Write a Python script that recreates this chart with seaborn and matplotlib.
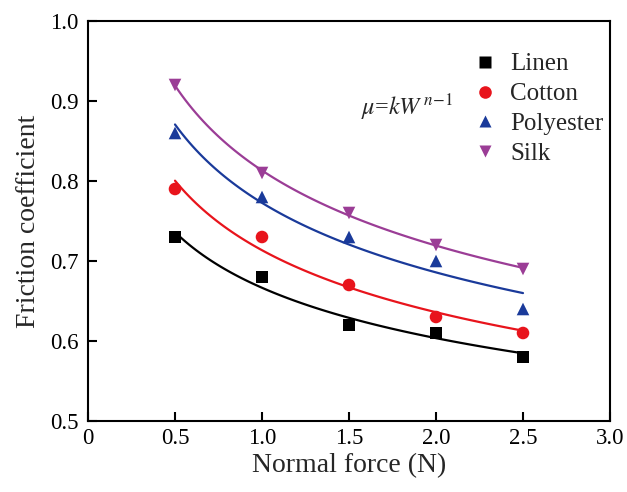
import numpy as np
import pandas as pd
import matplotlib
matplotlib.use("Agg")
import matplotlib.pyplot as plt
import seaborn as sns

force = [0.5, 1.0, 1.5, 2.0, 2.5]
linen = [0.73, 0.68, 0.62, 0.61, 0.58]
cotton = [0.79, 0.73, 0.67, 0.63, 0.61]
polyester = [0.86, 0.78, 0.73, 0.70, 0.64]
silk = [0.92, 0.81, 0.76, 0.72, 0.69]
fabrics = ["Linen", "Cotton", "Polyester", "Silk"]
x_ticks = [0, 0.5, 1.0, 1.5, 2.0, 2.5, 3.0]
x_labels = ["0", "0.5", "1.0", "1.5", "2.0", "2.5", "3.0"]
y_ticks = [0.5, 0.6, 0.7, 0.8, 0.9, 1.0]
y_labels = ["0.5", "0.6", "0.7", "0.8", "0.9", "1.0"]

sns.set_theme(style="ticks")
plt.rcParams["font.family"] = ["Liberation Serif", "DejaVu Serif"]
plt.rcParams["mathtext.fontset"] = "stix"

colors = {"Linen": "#000000", "Cotton": "#e8141c", "Polyester": "#1a3a9a", "Silk": "#9b3d96"}
markers = {"Linen": "s", "Cotton": "o", "Polyester": "^", "Silk": "v"}

values = [linen, cotton, polyester, silk]
df = pd.DataFrame({
    "force": np.tile(force, len(fabrics)),
    "mu": np.concatenate(values),
    "fabric": np.repeat(fabrics, len(force)),
})

# power-law fit mu = k W^(n-1) (log-log least squares)
fit_rows = []
xf = np.linspace(0.5, 2.5, 100)
for name, v in zip(fabrics, values):
    slope, intercept = np.polyfit(np.log(force), np.log(v), 1)
    yf = np.exp(intercept) * xf ** slope
    fit_rows.append(pd.DataFrame({"force": xf, "mu": yf, "fabric": name}))
fit_df = pd.concat(fit_rows)

fig = plt.figure(figsize=(6.27, 4.92), dpi=100)
ax = fig.add_axes([88 / 627, 1 - 421 / 492, 522 / 627, 400 / 492])

sns.lineplot(data=fit_df, x="force", y="mu", hue="fabric", palette=colors,
             linewidth=1.6, legend=False, ax=ax)
sns.scatterplot(data=df, x="force", y="mu", hue="fabric", style="fabric",
                palette=colors, markers=markers, s=82, edgecolor="none",
                ax=ax, zorder=3)

ax.set_xlim(0, 3.0)
ax.set_ylim(0.5, 1.0)
ax.set_xticks(x_ticks)
ax.set_xticklabels(x_labels)
ax.set_yticks(y_ticks)
ax.set_yticklabels(y_labels)
ax.tick_params(direction="in", length=6.5, width=1.5, labelsize=16.5, colors="black")
ax.tick_params(axis="x", pad=5)
ax.tick_params(axis="y", pad=7)
for sp in ax.spines.values():
    sp.set_visible(True)
    sp.set_linewidth(1.5)
    sp.set_color("black")
ax.set_xlabel("Normal force (N)", fontsize=20, labelpad=3)
ax.set_ylabel("Friction coefficient", fontsize=20, labelpad=6)

leg = ax.legend(frameon=False, fontsize=18, loc="upper left",
                bbox_to_anchor=(0.7366, 0.92), handlelength=1.0,
                handletextpad=0.5, labelspacing=0.29, borderaxespad=0,
                borderpad=0, markerscale=1.0)
ax.text(0.523, 0.765, r"$\mu$=$kW^{\,n\!-\!1}$", transform=ax.transAxes,
        fontsize=17.5, va="baseline")

fig.savefig("out.png", dpi=100)
